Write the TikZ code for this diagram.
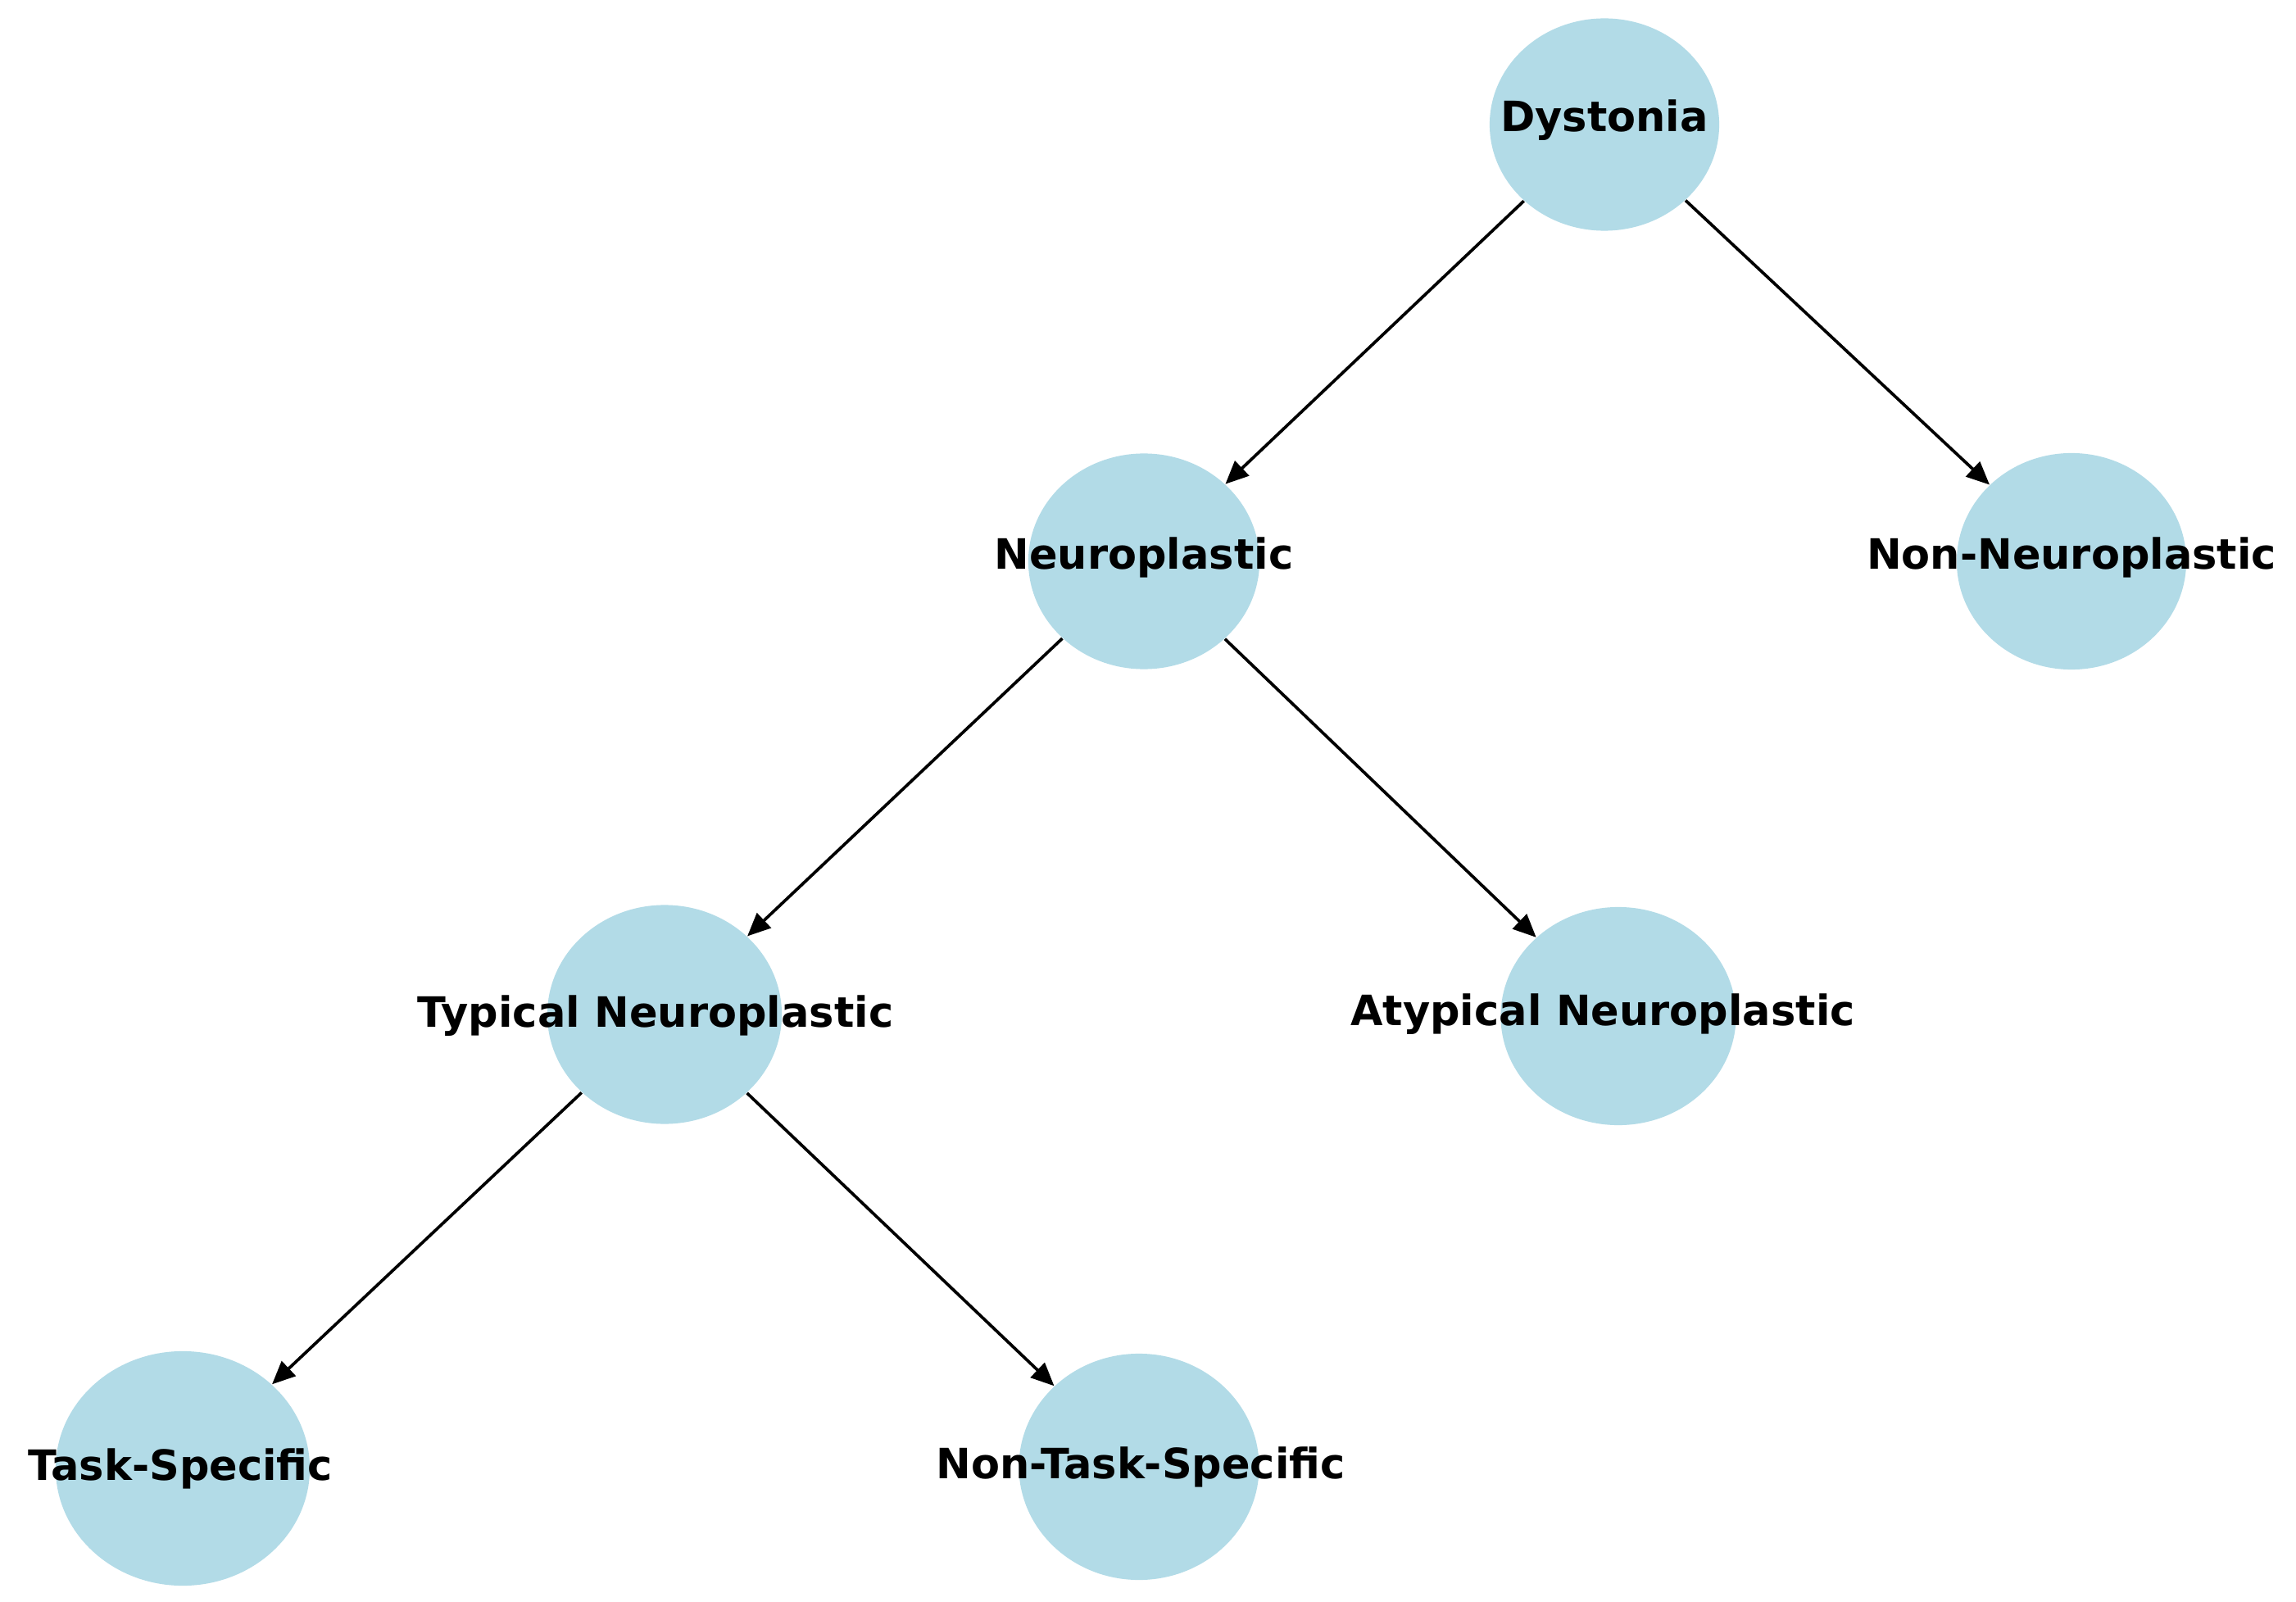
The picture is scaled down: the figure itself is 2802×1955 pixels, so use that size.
\documentclass[tikz,border=0pt]{standalone}
\usepackage{fontspec}
\setmainfont{DejaVu Sans}
\usetikzlibrary{shapes.geometric,arrows.meta}
\definecolor{nodeblue}{HTML}{B2DBE7}
\begin{document}
\begin{tikzpicture}[x=0.01cm,y=-0.01cm,
  blob/.style={ellipse, fill=nodeblue, draw=none, inner sep=0pt},
  lbl/.style={font=\fontsize{14.5}{16}\selectfont\bfseries, text=black, inner sep=0pt},
  edge/.style={-{Triangle[length=8pt,width=7pt]}, line width=1.05pt, black}]
\useasboundingbox (0,0) rectangle (2802,1955);
\fill[white] (0,0) rectangle (2802,1955);
% nodes
\node[blob, minimum width=2.80cm, minimum height=2.59cm] (dys) at (1958,152) {};
\node[blob, minimum width=2.82cm, minimum height=2.63cm] (neu) at (1396,685) {};
\node[blob, minimum width=2.80cm, minimum height=2.64cm] (non) at (2528,685) {};
\node[blob, minimum width=2.86cm, minimum height=2.67cm] (typ) at (811,1238) {};
\node[blob, minimum width=2.87cm, minimum height=2.66cm] (aty) at (1975,1240) {};
\node[blob, minimum width=3.10cm, minimum height=2.86cm] (task) at (223,1792) {};
\node[blob, minimum width=2.93cm, minimum height=2.76cm] (ntask) at (1390,1790) {};
% edges
\draw[edge] (dys) -- (neu);
\draw[edge] (dys) -- (non);
\draw[edge] (neu) -- (typ);
\draw[edge] (neu) -- (aty);
\draw[edge] (typ) -- (task);
\draw[edge] (typ) -- (ntask);
% labels
\node[lbl] (dysL) at (1958,147) {Dystonia};
\node[lbl] (neuL) at (1396,680) {Neuroplastic};
\node[lbl] (nonL) at (2528,680) {Non-Neuroplastic};
\node[lbl] (typL) at (800,1240) {Typical Neuroplastic};
\node[lbl] (atyL) at (1956,1238) {Atypical Neuroplastic};
\node[lbl] (taskL) at (220,1792) {Task-Specific};
\node[lbl] (ntaskL) at (1392,1790) {Non-Task-Specific};
\end{tikzpicture}
\end{document}
